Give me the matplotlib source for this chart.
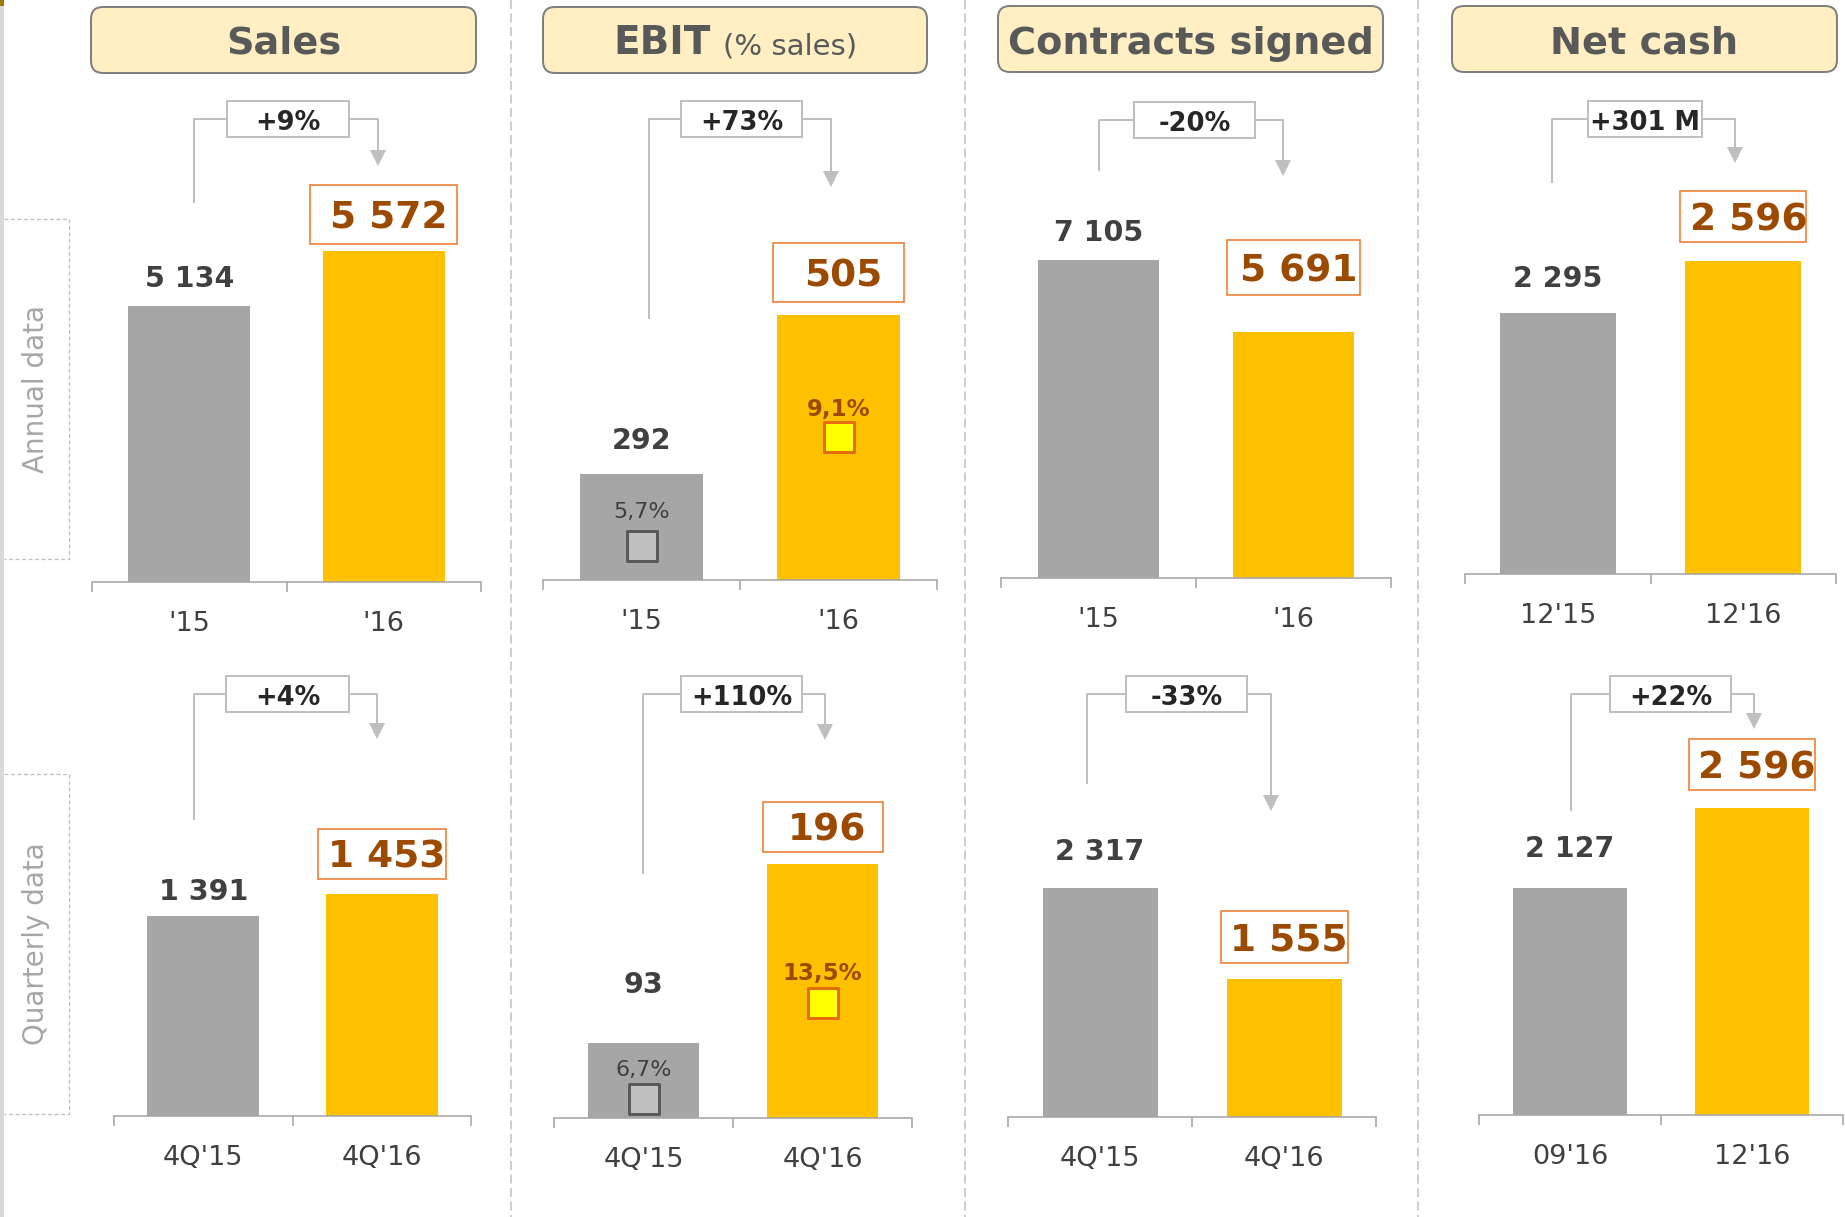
import matplotlib
matplotlib.use("Agg")
import matplotlib.pyplot as plt
from matplotlib.patches import Rectangle, FancyBboxPatch, Polygon
from matplotlib.lines import Line2D
from matplotlib.transforms import IdentityTransform

# ---------------- data ----------------
titles = ["Sales", "EBIT", "Contracts signed", "Net cash"]
annual_labels = [["'15", "'16"], ["'15", "'16"], ["'15", "'16"], ["12'15", "12'16"]]
quarter_labels = [["4Q'15", "4Q'16"], ["4Q'15", "4Q'16"], ["4Q'15", "4Q'16"], ["09'16", "12'16"]]
annual_values = [[5134, 5572], [292, 505], [7105, 5691], [2295, 2596]]
quarter_values = [[1391, 1453], [93, 196], [2317, 1555], [2127, 2596]]
annual_change = ["+9%", "+73%", "-20%", "+301 M"]
quarter_change = ["+4%", "+110%", "-33%", "+22%"]
ebit_margin_annual = [5.7, 9.1]
ebit_margin_quarter = [6.7, 13.5]
row_labels = ["Annual data", "Quarterly data"]

# ---------------- layout (pixels, top-left origin) ----------------
W, H, DPI = 1845, 1217, 100
AX_H = 400
GRAY, YELLOW = "#A6A6A6", "#FFC000"
BROWN, ORANGE = "#9C4A00", "#ED7D31"
DARK, LINEC = "#404040", "#BFBFBF"

rows = [
    dict(values=annual_values, labels=annual_labels, change=annual_change,
         axx=[(92, 481), (543, 937), (1001, 1391), (1465, 1836)],
         base=[582, 580, 578, 574],
         ylim=[(2936, 6121), (150, 686), (860, 8715), (784, 3099)],
         goff=[29, 35, 29, 36], boff=[36.5, 42.5, 64.5, 44.5],
         bsize=[(147, 59), (131, 59), (133, 55), (126, 51)],
         brk=[(194, 203, 227, 349, 101, 137, 378, 166),
              (649, 319, 681, 802, 101, 137, 831, 187),
              (1099, 171, 1134, 1255, 102, 138, 1283, 176),
              (1552, 183, 1588, 1702, 101, 137, 1735, 163)],
         margin=ebit_margin_annual, mylim=(4.64, 17.12), moff=[36, 30]),
    dict(values=quarter_values, labels=quarter_labels, change=quarter_change,
         axx=[(114, 471), (554, 912), (1008, 1376), (1479, 1843)],
         base=[1116, 1118, 1117, 1115],
         ylim=[(827, 1954), (49.8, 280), (399, 3748.5), (796, 3141)],
         goff=[26, 60, 38, 41], boff=[40, 37, 42, 43.5],
         bsize=[(128, 50), (120, 50), (127, 52), (126, 51)],
         brk=[(194, 820, 226, 349, 676, 712, 377, 739),
              (643, 874, 681, 802, 676, 712, 825, 740),
              (1087, 784, 1126, 1247, 676, 712, 1271, 811),
              (1571, 811, 1610, 1731, 676, 712, 1754, 729)],
         margin=ebit_margin_quarter, mylim=(5.35, 33.68), moff=[31, 31]),
]
headers = [(91, 476, 7, 73), (543, 927, 7, 73), (998, 1383, 6, 72), (1452, 1837, 6, 72)]
separators = [511, 965, 1418]
side_boxes = [(4, 69, 219, 559), (4, 69, 774, 1114)]

PT = 72.0 / DPI  # pixels -> points


def fmt_int(v):
    return f"{v:,}".replace(",", " ")


def fmt_pct(v):
    return f"{v:.1f}%".replace(".", ",")


fig = plt.figure(figsize=(W / DPI, H / DPI), dpi=DPI)
fig.patch.set_facecolor("white")
ID = IdentityTransform()


def line_px(pts, color=LINEC, lw=2, z=3, dashes=None):
    l = Line2D([p[0] for p in pts], [H - p[1] for p in pts], transform=ID,
               color=color, lw=lw * PT, zorder=z, solid_capstyle="butt")
    if dashes:
        l.set_dashes(dashes)
    fig.add_artist(l)


def rect_px(x0, x1, y0, y1, fc="white", ec=LINEC, lw=1.5, z=3, ls="-"):
    r = Rectangle((x0, H - y1), x1 - x0, y1 - y0, transform=ID, fc=fc, ec=ec,
                  lw=lw * PT, zorder=z, ls=ls)
    fig.add_artist(r)
    return r


def ftext(x, y, s, **kw):
    return fig.text(x / W, 1 - y / H, s, **kw)


# left strip
rect_px(0, 4, 0, H, fc="#D9D9D9", ec="none", lw=0, z=1)
rect_px(0, 4, 0, 6, fc="#9C7A00", ec="none", lw=0, z=1)

# column separators
for sx in separators:
    line_px([(sx, 0), (sx, H)], color=LINEC, lw=1.5, z=1, dashes=(6, 3))

# side labels
for (x0, x1, y0, y1), lab in zip(side_boxes, row_labels):
    line_px([(x0, y0), (x1, y0), (x1, y1), (x0, y1)], color=LINEC, lw=1.3, z=1, dashes=(3, 2))
    ftext((x0 + x1) / 2, (y0 + y1) / 2, lab, rotation=90, ha="center", va="center",
          fontsize=20, color=GRAY)

# headers
for i, (x0, x1, y0, y1) in enumerate(headers):
    fb = FancyBboxPatch((x0, H - y1), x1 - x0, y1 - y0,
                        boxstyle="round,pad=0,rounding_size=12", transform=ID,
                        fc="#FFEFC2", ec="#7F7F7F", lw=2 * PT, zorder=2)
    fig.add_artist(fb)
    cx = (x0 + x1) / 2
    if titles[i] == "EBIT":
        ftext(cx - 24, 54, "EBIT", ha="right", va="baseline", fontsize=28,
              fontweight="bold", color="#595959")
        ftext(cx - 12, 54, "(% sales)", ha="left", va="baseline", fontsize=21,
              color="#595959")
    else:
        ftext(cx, 54, titles[i], ha="center", va="baseline", fontsize=27.5,
              fontweight="bold", color="#595959")


def bracket(g, text):
    lx, lb, bx0, bx1, by0, by1, rx, tip = g
    ty = (by0 + by1) / 2
    line_px([(lx, lb), (lx, ty), (bx0, ty)])
    line_px([(bx1, ty), (rx, ty), (rx, tip - 14)])
    tri = Polygon([(rx - 8, H - (tip - 16)), (rx + 8, H - (tip - 16)), (rx, H - tip)],
                  closed=True, transform=ID, fc=LINEC, ec="none", zorder=3)
    fig.add_artist(tri)
    rect_px(bx0, bx1, by0, by1, fc="white", ec=LINEC, lw=2, z=4)
    ftext((bx0 + bx1) / 2, ty + 4, text, ha="center", va="center", fontsize=18.5,
          fontweight="bold", color="#262626", zorder=5)


for r in rows:
    for i in range(4):
        x0, x1 = r["axx"][i]
        base = r["base"][i]
        ax = fig.add_axes([x0 / W, 1 - base / H, (x1 - x0) / W, AX_H / H])
        ax.set_facecolor("none")
        vals = r["values"][i]
        ax.bar([0, 1], vals, width=0.625, color=[GRAY, YELLOW], zorder=2)
        ax.set_xlim(-0.5, 1.5)
        ax.set_ylim(*r["ylim"][i])
        for s in ("left", "right", "top"):
            ax.spines[s].set_visible(False)
        ax.spines["bottom"].set_color(GRAY)
        ax.spines["bottom"].set_linewidth(1.6 * PT)
        ax.set_yticks([])
        ax.set_xticks([0, 1])
        ax.set_xticklabels(r["labels"][i], fontsize=19.5, color=DARK)
        ax.tick_params(axis="x", which="major", length=0, pad=21)
        ax.set_xticks([-0.5, 0.5, 1.5], minor=True)
        ax.tick_params(axis="x", which="minor", length=10 * PT, width=1.6 * PT,
                       color=GRAY, direction="out")

        # value label of the first bar
        ax.annotate(fmt_int(vals[0]), xy=(0, vals[0]),
                    xytext=(0, (r["goff"][i] - 2) * PT), textcoords="offset points",
                    ha="center", va="center", fontsize=20.5, fontweight="bold",
                    color=DARK, annotation_clip=False, zorder=6)
        # boxed label of the second bar (box drawn below the axes layer)
        px_, py_ = ax.transData.transform((1, vals[1]))
        bw, bh = r["bsize"][i]
        cy = py_ + r["boff"][i]
        box = Rectangle((px_ - bw / 2, cy - bh / 2), bw, bh, transform=ID,
                        fc="white", ec=ORANGE, lw=1.6 * PT, zorder=-1)
        fig.add_artist(box)
        ax.annotate(fmt_int(vals[1]), xy=(1, vals[1]),
                    xytext=(5 * PT, (r["boff"][i] - 4) * PT), textcoords="offset points",
                    ha="center", va="center", fontsize=27, fontweight="bold",
                    color=BROWN, annotation_clip=False, zorder=6)

        # EBIT margin markers
        if titles[i] == "EBIT":
            ax2 = ax.twinx()
            ax2.set_ylim(*r["mylim"])
            ax2.axis("off")
            m = r["margin"]
            ax2.scatter([0], [m[0]], marker="s", s=(21) ** 2, c="#C0C0C0",
                        edgecolors="#595959", linewidths=3 * PT, zorder=6)
            ax2.scatter([1], [m[1]], marker="s", s=(21) ** 2, c="#FFFF00",
                        edgecolors="#E46C0A", linewidths=3 * PT, zorder=6)
            ax2.annotate(fmt_pct(m[0]), xy=(0, m[0]), xytext=(0, (r["moff"][0] - 2) * PT),
                         textcoords="offset points", ha="center", va="center",
                         fontsize=16, color=DARK, annotation_clip=False)
            ax2.annotate(fmt_pct(m[1]), xy=(1, m[1]), xytext=(0, (r["moff"][1] - 2) * PT),
                         textcoords="offset points", ha="center", va="center",
                         fontsize=16.5, fontweight="bold", color=BROWN,
                         annotation_clip=False)

        bracket(r["brk"][i], r["change"][i])

fig.savefig("out.png", dpi=DPI, facecolor="white")
